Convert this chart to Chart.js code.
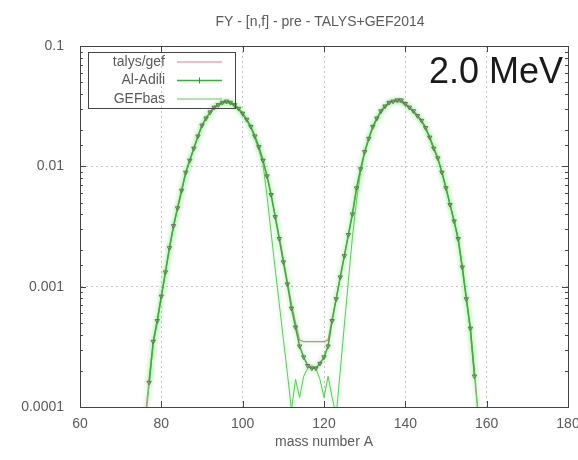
<!DOCTYPE html>
<html>
<head>
<meta charset="utf-8">
<title>FY 2.0 MeV</title>
<script src="https://cdn.jsdelivr.net/npm/chart.js@4"></script>
<style>body{margin:0;background:#fff}</style>
</head>
<body>
<canvas id="grafico" width="578" height="460"></canvas>
<script>
const titulo = 'FY - [n,f] - pre - TALYS+GEF2014';
const energia = '2.0 MeV';
const tituloX = 'mass number A';
const etiquetas = ['talys/gef', 'Al-Adili', 'GEFbas'];

// mass numbers A = 76..158, one entry per series value
const masas = [76, 77, 78, 79, 80, 81, 82, 83, 84, 85, 86, 87, 88, 89, 90, 91, 92, 93, 94, 95,
  96, 97, 98, 99, 100, 101, 102, 103, 104, 105, 106, 107, 108, 109, 110, 111, 112, 113, 114, 115,
  116, 117, 118, 119, 120, 121, 122, 123, 124, 125, 126, 127, 128, 129, 130, 131, 132, 133, 134, 135,
  136, 137, 138, 139, 140, 141, 142, 143, 144, 145, 146, 147, 148, 149, 150, 151, 152, 153, 154, 155,
  156, 157, 158];

const talys = [0.00008, 0.00017, 0.00034, 0.00053, 0.00084, 0.0013, 0.0021, 0.0032, 0.0046, 0.0064,
  0.0088, 0.0113, 0.0142, 0.0177, 0.0216, 0.0250, 0.0280, 0.0305, 0.0322, 0.0335,
  0.0340, 0.0335, 0.0320, 0.0298, 0.0272, 0.0243, 0.0212, 0.0178, 0.0144, 0.0111,
  0.0082, 0.0058, 0.0039, 0.0026, 0.0017, 0.0011, 0.00072, 0.0005, 0.00036, 0.00035,
  0.00035, 0.00035, 0.00035, 0.00035, 0.00035, 0.00036, 0.00054, 0.0008, 0.0012, 0.0018,
  0.0027, 0.0041, 0.0065, 0.0094, 0.0130, 0.0168, 0.0210, 0.0248, 0.0284, 0.0314,
  0.0334, 0.0344, 0.0347, 0.0345, 0.0330, 0.0308, 0.0286, 0.0262, 0.0238, 0.0208,
  0.0174, 0.0142, 0.0116, 0.0089, 0.0066, 0.0048, 0.0035, 0.0025, 0.0015, 0.00082,
  0.00044, 0.0002, 0.00008];

const adili = [null, 0.00016, 0.00035, 0.00052, 0.00083, 0.00132, 0.0021, 0.0032, 0.0045, 0.0063,
  0.0089, 0.0112, 0.0141, 0.0178, 0.0219, 0.0251, 0.0282, 0.0309, 0.0324, 0.0339,
  0.0347, 0.0339, 0.0324, 0.0302, 0.0275, 0.0245, 0.0214, 0.0178, 0.0145, 0.0112,
  0.0083, 0.0058, 0.0038, 0.0025, 0.0016, 0.00105, 0.00066, 0.00046, 0.00032, 0.00026,
  0.00022, 0.00021, 0.00021, 0.00023, 0.00026, 0.00032, 0.00052, 0.00079, 0.0012, 0.0018,
  0.0027, 0.0040, 0.0066, 0.0095, 0.0132, 0.0170, 0.0214, 0.0251, 0.0288, 0.0316,
  0.0339, 0.0347, 0.0355, 0.0355, 0.0331, 0.0309, 0.0288, 0.0263, 0.0240, 0.0209,
  0.0174, 0.0141, 0.0117, 0.0089, 0.0066, 0.0048, 0.0035, 0.0025, 0.00145, 0.00079,
  0.00045, 0.00018, null];

const gefbas = [0.00007, 0.00015, 0.00033, 0.0005, 0.00083, 0.0013, 0.0021, 0.0031, 0.0045, 0.0063,
  0.0087, 0.0112, 0.0141, 0.0178, 0.0219, 0.0251, 0.0282, 0.0309, 0.0324, 0.0339,
  0.0339, 0.0331, 0.0316, 0.0295, 0.0269, 0.0240, 0.0209, 0.0170, 0.0135, 0.0105,
  0.0056, 0.0028, 0.0014, 0.00072, 0.00037, 0.00019, 0.000095, 0.00017, 0.00012, 0.00018,
  0.00021, 0.00022, 0.00021, 0.00017, 0.00012, 0.00018, 0.00012, 0.000085, 0.0002, 0.00048,
  0.00112, 0.0026, 0.0052, 0.0089, 0.0132, 0.0170, 0.0209, 0.0245, 0.0282, 0.0309,
  0.0331, 0.0347, 0.0347, 0.0339, 0.0324, 0.0302, 0.0282, 0.0257, 0.0234, 0.0204,
  0.0170, 0.0138, 0.0115, 0.0089, 0.0066, 0.0048, 0.0035, 0.0024, 0.0014, 0.00079,
  0.00042, 0.00018, 0.00008];

const FUENTE = '"Liberation Sans", Arial, sans-serif';
const GRIS = '#5a5a5a';

function esDecada(v) {
  const l = Math.log10(v);
  return Math.abs(l - Math.round(l)) < 1e-6;
}

function puntos(valores) {
  return masas.map((a, i) => ({x: a, y: valores[i]}));
}

// soft green halo round the curves, like the blurred original
const halo = {
  id: 'halo',
  beforeDatasetDraw(chart) {
    chart.ctx.save();
    chart.ctx.shadowColor = 'rgba(90, 230, 90, 0.55)';
    chart.ctx.shadowBlur = 4;
  },
  afterDatasetDraw(chart) {
    chart.ctx.restore();
  }
};

// frame, inward ticks, title, energy label and the boxed legend (gnuplot look)
const marco = {
  id: 'marco',
  afterDraw(chart) {
    const {ctx, chartArea: a, scales} = chart;
    ctx.save();
    ctx.strokeStyle = '#444';
    ctx.lineWidth = 1;
    ctx.strokeRect(Math.round(a.left) + 0.5, Math.round(a.top) + 0.5,
      Math.round(a.right - a.left), Math.round(a.bottom - a.top));

    ctx.beginPath();
    scales.x.ticks.forEach(t => {
      const px = Math.round(scales.x.getPixelForValue(t.value)) + 0.5;
      ctx.moveTo(px, a.bottom); ctx.lineTo(px, a.bottom - 6);
      ctx.moveTo(px, a.top); ctx.lineTo(px, a.top + 6);
    });
    scales.y.ticks.forEach(t => {
      const py = Math.round(scales.y.getPixelForValue(t.value)) + 0.5;
      const len = esDecada(t.value) ? 6 : 3;
      ctx.moveTo(a.left, py); ctx.lineTo(a.left + len, py);
      ctx.moveTo(a.right, py); ctx.lineTo(a.right - len, py);
    });
    ctx.stroke();

    ctx.fillStyle = GRIS;
    ctx.font = '14px ' + FUENTE;
    ctx.textAlign = 'center';
    ctx.textBaseline = 'middle';
    ctx.fillText(titulo, (a.left + a.right) / 2 - 4, 22);

    ctx.fillStyle = '#1a1a1a';
    ctx.font = '36px ' + FUENTE;
    ctx.textAlign = 'right';
    ctx.textBaseline = 'alphabetic';
    ctx.fillText(energia, a.right - 5, a.top + 37);

    // legend box
    const lx = a.left + 8, ly = a.top + 6;
    ctx.strokeStyle = '#444';
    ctx.strokeRect(Math.round(lx) + 0.5, Math.round(ly) + 0.5, 147, 56);
    ctx.font = '14px ' + FUENTE;
    ctx.textBaseline = 'middle';
    chart.data.datasets.forEach((ds, i) => {
      const y = ly + 10 + i * 18.5;
      ctx.fillStyle = GRIS;
      ctx.textAlign = 'right';
      ctx.fillText(ds.label, lx + 77, y);
      ctx.strokeStyle = ds.borderColor;
      ctx.lineWidth = ds.borderWidth;
      ctx.beginPath();
      ctx.moveTo(lx + 89, y); ctx.lineTo(lx + 134, y);
      ctx.stroke();
      if (ds.pointRadius > 0) {
        ctx.strokeStyle = ds.pointBorderColor;
        ctx.lineWidth = 1;
        ctx.beginPath();
        ctx.moveTo(lx + 111.5, y - 3); ctx.lineTo(lx + 111.5, y + 3);
        ctx.stroke();
      }
    });
    ctx.restore();
  }
};

new Chart(document.getElementById('grafico'), {
  type: 'line',
  data: {
    datasets: [
      {
        label: etiquetas[0], data: puntos(talys), order: 3,
        borderColor: '#e07aa0', borderWidth: 1.2, pointRadius: 0
      },
      {
        label: etiquetas[1], data: puntos(adili), order: 1,
        borderColor: '#38b038', borderWidth: 1.5,
        pointRadius: 2.5, pointStyle: 'triangle', rotation: 180,
        pointBorderColor: '#6c6c58', pointBackgroundColor: 'rgba(0,0,0,0)', pointBorderWidth: 1
      },
      {
        label: etiquetas[2], data: puntos(gefbas), order: 2,
        borderColor: '#5cc85c', borderWidth: 1, pointRadius: 0
      }
    ]
  },
  options: {
    responsive: false,
    animation: false,
    spanGaps: false,
    layout: {padding: {top: 46, right: 10, left: 0, bottom: 0}},
    plugins: {legend: {display: false}, title: {display: false}, tooltip: {enabled: false}},
    scales: {
      x: {
        type: 'linear', min: 60, max: 180,
        ticks: {stepSize: 20, color: GRIS, font: {family: FUENTE, size: 14}, padding: 9, maxRotation: 0},
        grid: {color: '#c4c4c4', lineWidth: 1, drawTicks: false, tickLength: 0},
        border: {display: true, color: '#444', dash: [2, 3]},
        title: {display: true, text: tituloX, color: GRIS, font: {family: FUENTE, size: 14}, padding: {top: 0, bottom: 9}},
        afterFit(s) { s.height = 53; s.paddingLeft = 0; s.paddingRight = 0; }
      },
      y: {
        type: 'logarithmic', min: 0.0001, max: 0.1,
        ticks: {
          color: GRIS, font: {family: FUENTE, size: 14}, padding: 16, autoSkip: false,
          callback: v => esDecada(v) ? String(v) : ''
        },
        grid: {
          color: c => esDecada(c.tick.value) ? '#c4c4c4' : 'rgba(0,0,0,0)',
          drawTicks: false, tickLength: 0
        },
        border: {display: true, color: '#444', dash: [2, 3]},
        afterFit(s) { s.width = 80; s.paddingTop = 0; s.paddingBottom = 0; }
      }
    }
  },
  plugins: [halo, marco]
});
</script>
</body>
</html>
